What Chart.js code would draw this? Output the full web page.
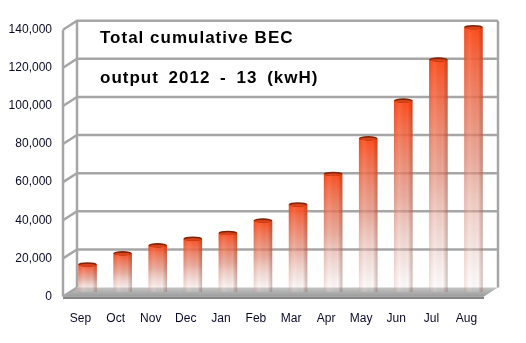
<!DOCTYPE html>
<html>
<head>
<meta charset="utf-8">
<script src="https://cdn.jsdelivr.net/npm/chart.js@4"></script>
<style>
  html, body { margin: 0; padding: 0; background: #ffffff; }
  #chart { display: block; }
</style>
</head>
<body>
<canvas id="chart" width="526" height="343"></canvas>
<script>
// data
const months = ['Sep', 'Oct', 'Nov', 'Dec', 'Jan', 'Feb', 'Mar', 'Apr', 'May', 'Jun', 'Jul', 'Aug'];
const becOutput = [14500, 20300, 24500, 28000, 31000, 37500, 46000, 62000, 80700, 100500, 122000, 139000];
const yMax = 140000;
const yStep = 20000;
const titleLines = ['Total cumulative BEC', 'output 2012 - 13 (kwH)'];

// depth of the fake 3D box
const BACK = { dx: 7, dy: -4.5 };
const FRONT = { dx: -7, dy: 4.5 };
const FONT = "'Liberation Sans', Arial, sans-serif";

function barFill(context) {
    const chart = context.chart;
    const yScale = chart.scales.y;
    if (!yScale || !context.parsed) return '#ff4a18';
    const top = yScale.getPixelForValue(context.parsed.y);
    const base = yScale.getPixelForValue(0);
    if (!isFinite(top) || !isFinite(base) || top === base) return '#ff4a18';
    const g = chart.ctx.createLinearGradient(0, top, 0, base);
    g.addColorStop(0, 'rgba(255,76,26,1)');
    g.addColorStop(0.12, 'rgba(245,92,52,0.92)');
    g.addColorStop(0.5, 'rgba(225,130,108,0.68)');
    g.addColorStop(0.85, 'rgba(230,190,182,0.35)');
    g.addColorStop(1, 'rgba(245,232,232,0.15)');
    return g;
}

// back wall, side wall and floor, drawn under the bars
const boxPlugin = {
    id: 'box3d',
    beforeDatasetsDraw(chart) {
        const ctx = chart.ctx;
        const a = chart.chartArea;
        const y = chart.scales.y;
        ctx.save();

        // floor
        const fg = ctx.createLinearGradient(0, a.bottom + BACK.dy, 0, a.bottom + FRONT.dy);
        fg.addColorStop(0, '#c4c4c4');
        fg.addColorStop(1, '#9c9c9c');
        ctx.fillStyle = fg;
        ctx.beginPath();
        ctx.moveTo(a.left + BACK.dx, a.bottom + BACK.dy);
        ctx.lineTo(a.right + BACK.dx, a.bottom + BACK.dy);
        ctx.lineTo(a.right + FRONT.dx, a.bottom + FRONT.dy);
        ctx.lineTo(a.left + FRONT.dx, a.bottom + FRONT.dy);
        ctx.closePath();
        ctx.fill();
        ctx.fillStyle = '#858585';
        ctx.fillRect(a.left + FRONT.dx, a.bottom + FRONT.dy, a.right - a.left, 2.5);

        ctx.strokeStyle = '#a6a6a6';
        ctx.lineWidth = 2.5;
        for (let v = 0; v <= yMax; v += yStep) {
            const py = y.getPixelForValue(v);
            ctx.beginPath();
            ctx.moveTo(a.left + FRONT.dx, py + FRONT.dy);
            ctx.lineTo(a.left + BACK.dx, py + BACK.dy);
            if (v > 0) ctx.lineTo(a.right + BACK.dx, py + BACK.dy);
            ctx.stroke();
        }
        ctx.beginPath();
        ctx.moveTo(a.left + BACK.dx, a.top + BACK.dy);
        ctx.lineTo(a.left + BACK.dx, a.bottom + BACK.dy);
        ctx.moveTo(a.right + BACK.dx, a.top + BACK.dy);
        ctx.lineTo(a.right + BACK.dx, a.bottom + BACK.dy);
        ctx.moveTo(a.left + FRONT.dx, a.top + FRONT.dy);
        ctx.lineTo(a.left + FRONT.dx, a.bottom + FRONT.dy);
        ctx.stroke();
        ctx.restore();
    },
    afterDatasetsDraw(chart) {
        const ctx = chart.ctx;
        const meta = chart.getDatasetMeta(0);
        ctx.save();
        meta.data.forEach(bar => {
            const left = bar.x - bar.width / 2;
            const w = bar.width;
            // cylinder shading
            const hg = ctx.createLinearGradient(left, 0, left + w, 0);
            hg.addColorStop(0, 'rgba(140,30,0,0.12)');
            hg.addColorStop(0.3, 'rgba(255,255,255,0.08)');
            hg.addColorStop(0.75, 'rgba(0,0,0,0)');
            hg.addColorStop(1, 'rgba(120,25,0,0.28)');
            ctx.fillStyle = hg;
            ctx.fillRect(left, bar.y, w, bar.base - bar.y);
            // top cap
            ctx.fillStyle = '#7e2408';
            ctx.beginPath();
            ctx.ellipse(bar.x, bar.y, w / 2, 2.2, 0, 0, Math.PI * 2);
            ctx.fill();
            ctx.fillStyle = '#d8431a';
            ctx.beginPath();
            ctx.ellipse(bar.x, bar.y + 0.8, w / 2 - 1, 1.4, 0, 0, Math.PI * 2);
            ctx.fill();
        });
        ctx.restore();
    },
    afterDraw(chart) {
        const ctx = chart.ctx;
        ctx.save();
        ctx.fillStyle = '#000000';
        ctx.font = 'bold 17px ' + FONT;
        ctx.textBaseline = 'alphabetic';
        ctx.letterSpacing = '1px';
        ctx.fillText(titleLines[0], 100, 43);
        ctx.wordSpacing = '4px';
        ctx.fillText(titleLines[1], 100, 83);
        ctx.restore();
    }
};

new Chart(document.getElementById('chart'), {
    type: 'bar',
    data: {
        labels: months,
        datasets: [{
            data: becOutput,
            backgroundColor: barFill,
            borderWidth: 0,
            barPercentage: 0.53,
            categoryPercentage: 1
        }]
    },
    options: {
        responsive: false,
        animation: false,
        layout: { padding: { top: 22, right: 35, left: 0, bottom: 0 } },
        plugins: {
            legend: { display: false },
            tooltip: { enabled: false }
        },
        scales: {
            x: {
                grid: { display: false, drawTicks: false },
                border: { display: false },
                ticks: {
                    color: '#0a0a28',
                    font: { family: FONT, size: 12 },
                    padding: 19,
                    labelOffset: -7,
                    maxRotation: 0
                },
                afterFit: s => { s.height = 51; }
            },
            y: {
                min: 0,
                max: yMax,
                grid: { display: false, drawTicks: false },
                border: { display: false },
                ticks: {
                    stepSize: yStep,
                    color: '#0a0a28',
                    font: { family: FONT, size: 12 },
                    padding: 18,
                    labelOffset: 4.5
                },
                afterFit: s => { s.width = 70; }
            }
        }
    },
    plugins: [boxPlugin]
});
</script>
</body>
</html>
